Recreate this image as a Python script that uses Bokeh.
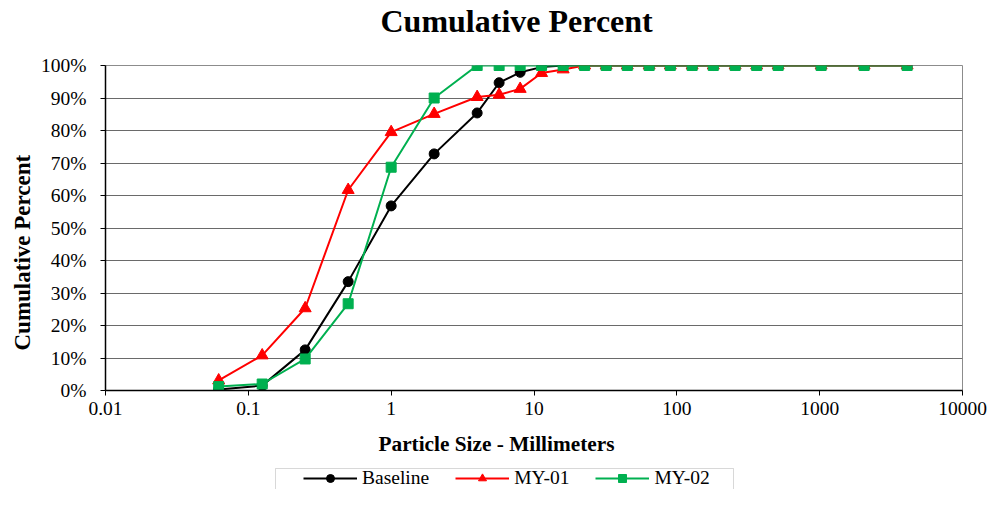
from bokeh.plotting import figure
from bokeh.layouts import column
from bokeh.models import (FixedTicker, CustomJSTickFormatter, PrintfTickFormatter,
                          Legend, LegendItem, Range1d, BoxAnnotation, Title)
from bokeh.embed import file_html
from bokeh.resources import INLINE

sizes = [0.062, 0.125, 0.25, 0.5, 1, 2, 4, 5.7, 8, 11.3, 16, 22.6, 32, 45, 64, 90,
         128, 180, 256, 362, 512, 1024, 2048, 4096]
baseline = [0.3, 1.5, 12.5, 33.5, 56.8, 72.8, 85.4, 94.7, 97.9, 99.5, 100, 100, 100, 100,
            100, 100, 100, 100, 100, 100, 100, 100, 100, 100]
my01 = [3.1, 10.8, 25.3, 61.7, 79.5, 85.1, 90.3, 91.0, 92.8, 97.7, 98.8, 100, 100, 100,
        100, 100, 100, 100, 100, 100, 100, 100, 100, 100]
my02 = [1.2, 2.0, 9.7, 26.7, 68.7, 90.0, 100, 100, 100, 100, 100, 100, 100, 100,
        100, 100, 100, 100, 100, 100, 100, 100, 100, 100]
series_names = ["Baseline", "MY-01", "MY-02"]
x_ticks = [0.01, 0.1, 1, 10, 100, 1000, 10000]
y_ticks = [0, 10, 20, 30, 40, 50, 60, 70, 80, 90, 100]

FONT = "Liberation Serif"
BLACK, RED, GREEN = "black", "#ff0000", "#00b050"

p = figure(width=987, height=467, x_axis_type="log", output_backend="svg",
           toolbar_location=None, x_range=Range1d(0.01, 10000), y_range=Range1d(0, 100))
p.title = None
p.min_border_left = 105
p.min_border_right = 25
p.min_border_top = 65
p.min_border_bottom = 77
p.background_fill_color = "white"
p.border_fill_color = "white"
p.outline_line_color = "#8c8c8c"
p.outline_line_width = 1

main_title = Title(text="Cumulative Percent", align="left", offset=275, standoff=0,
                   padding=dict(left=0, right=0, top=0, bottom=27),
                   text_font=FONT, text_font_style="bold", text_font_size="32px",
                   text_color="black")
p.add_layout(main_title, "above")

p.xgrid.visible = False
p.ygrid.ticker = FixedTicker(ticks=y_ticks)
p.ygrid.grid_line_color = "#6a6a6a"
p.ygrid.grid_line_width = 1

xax = p.below[0]
yax = p.left[0]
xax.ticker = FixedTicker(ticks=x_ticks)
xax.formatter = CustomJSTickFormatter(code="return tick.toString();")
yax.ticker = FixedTicker(ticks=y_ticks)
yax.formatter = PrintfTickFormatter(format="%d%%")
for ax in (xax, yax):
    ax.axis_line_color = "black"
    ax.axis_line_width = 1.5
    ax.major_tick_line_color = "black"
    ax.major_tick_out = 5
    ax.major_tick_in = 0
    ax.minor_tick_line_color = None
    ax.major_label_text_font = FONT
    ax.major_label_text_font_size = "19.5px"
    ax.major_label_text_color = "black"
xax.major_label_standoff = 6
yax.major_label_standoff = 14

ytitle = Title(text="Cumulative Percent", align="left", offset=40, standoff=8,
               text_font=FONT, text_font_style="bold", text_font_size="23px",
               text_color="black")
p.add_layout(ytitle, "left")
xtitle = Title(text="Particle Size - Millimeters", align="left", offset=273, standoff=24,
               text_font=FONT, text_font_style="bold", text_font_size="21.3px",
               text_color="black")
p.add_layout(xtitle, "below")

p.line(sizes, baseline, line_color=BLACK, line_width=2)
p.scatter(sizes, baseline, marker="circle", size=10, fill_color=BLACK, line_color=BLACK)
p.line(sizes, my01, line_color=RED, line_width=2)
p.scatter(sizes, my01, marker="triangle", size=12, fill_color=RED, line_color=RED)
p.line(sizes, my02, line_color=GREEN, line_width=2)
p.scatter(sizes, my02, marker="square", size=10, fill_color=GREEN, line_color=GREEN)

# legend strip below the chart
q = figure(width=987, height=22, output_backend="svg", toolbar_location=None,
           x_range=Range1d(-2, -1), y_range=Range1d(-2, -1),
           x_axis_location=None, y_axis_location=None)
q.min_border = 0
q.min_border_left = 0
q.min_border_right = 0
q.min_border_top = 0
q.min_border_bottom = 0
q.outline_line_color = None
q.xgrid.visible = False
q.ygrid.visible = False
q.background_fill_color = "white"
q.border_fill_color = "white"

items = []
for name, vals, col, mk, sz in [(series_names[0], baseline, BLACK, "circle", 10),
                                 (series_names[1], my01, RED, "triangle", 12),
                                 (series_names[2], my02, GREEN, "square", 10)]:
    rl = q.line(sizes, vals, line_color=col, line_width=2)
    rm = q.scatter(sizes, vals, marker=mk, size=sz, fill_color=col, line_color=col)
    items.append(LegendItem(label=name, renderers=[rl, rm]))

# frame of this strip is aligned with the chart frame (starts at x = 105)
legend = Legend(items=items, orientation="horizontal", location=(198, 0))
legend.label_text_font = FONT
legend.label_text_font_size = "19.5px"
legend.label_text_color = "black"
legend.glyph_width = 54
legend.glyph_height = 20
legend.label_height = 20
legend.label_standoff = 5
legend.spacing = 26
legend.padding = 0
legend.margin = 0
legend.border_line_color = None
legend.background_fill_alpha = 0
q.add_layout(legend, "center")

box = BoxAnnotation(left=170, right=628, top=21, bottom=-20,
                    left_units="screen", right_units="screen",
                    top_units="screen", bottom_units="screen",
                    fill_alpha=0, line_color="#7f7f7f", line_width=1)
q.add_layout(box)

layout = column(p, q, spacing=0)
open("out.html", "w").write(file_html(layout, INLINE))
